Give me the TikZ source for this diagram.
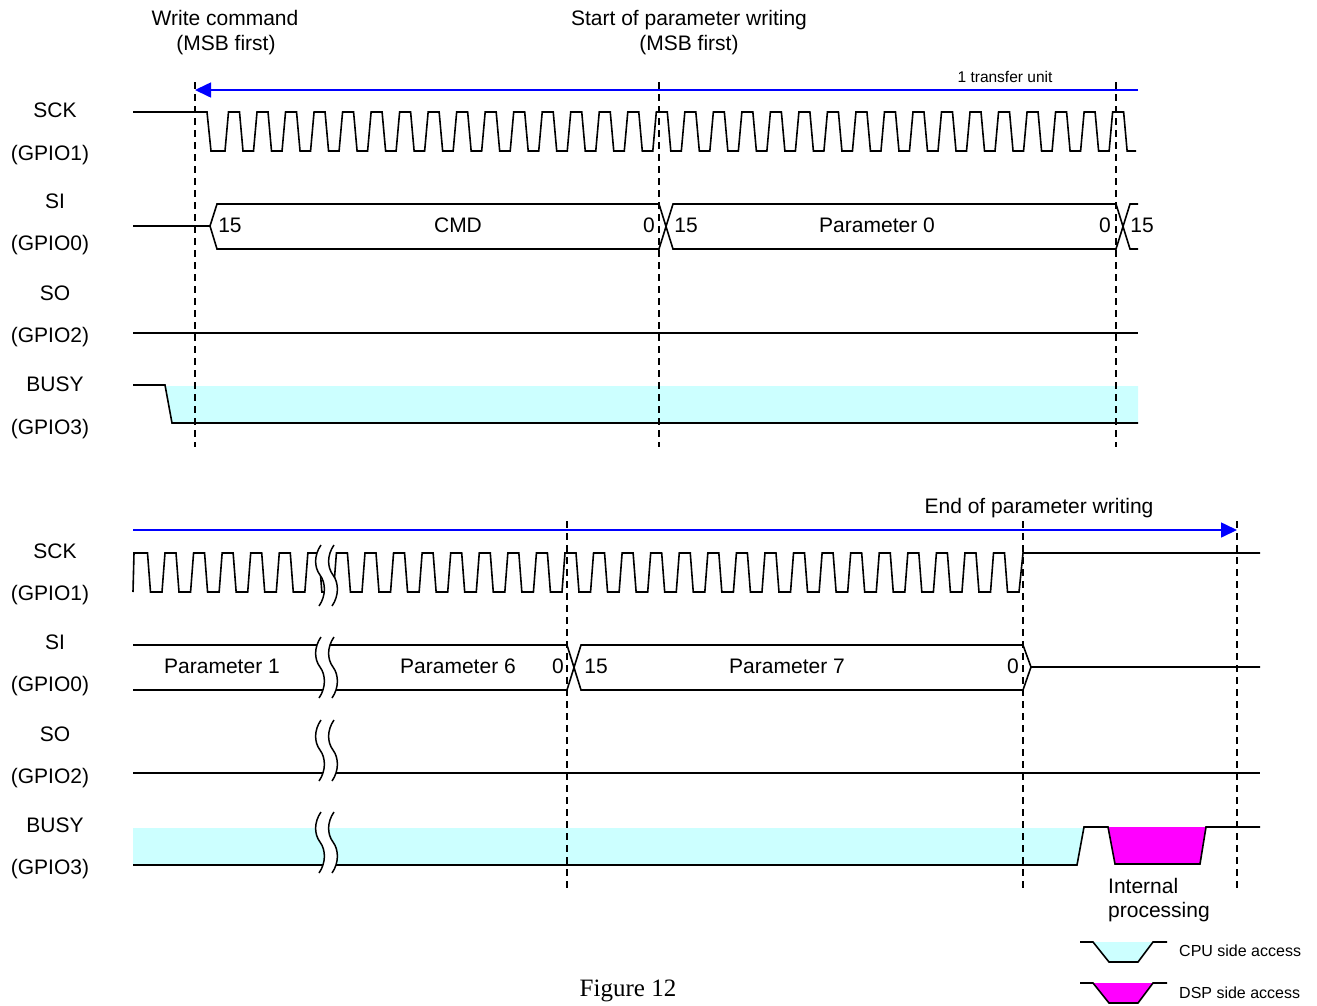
\documentclass[tikz,border=0pt]{standalone}
\usepackage{fontspec}
\setmainfont{Liberation Serif}
\setsansfont{Liberation Sans}
\usetikzlibrary{arrows.meta}
\definecolor{cpucyan}{HTML}{CCFFFF}
\definecolor{dspmag}{HTML}{FF00FF}
\definecolor{arrblue}{HTML}{0000FF}
\newcommand\brkmark[2]{%
 \fill[white] ({#1+1},#2) .. controls ({#1-6},{#2+10}) and ({#1-6},{#2+22}) .. (#1,{#2+30}) .. controls ({#1+6},{#2+38}) and ({#1+6},{#2+51}) .. ({#1-1},{#2+61}) -- ({#1+12},{#2+61}) .. controls ({#1+19},{#2+51}) and ({#1+19},{#2+38}) .. ({#1+13},{#2+30}) .. controls ({#1+7},{#2+22}) and ({#1+7},{#2+10}) .. ({#1+14},#2) -- cycle;
 \draw[brkline] ({#1+1},#2) .. controls ({#1-6},{#2+10}) and ({#1-6},{#2+22}) .. (#1,{#2+30}) .. controls ({#1+6},{#2+38}) and ({#1+6},{#2+51}) .. ({#1-1},{#2+61});
 \draw[brkline] ({#1+14},#2) .. controls ({#1+7},{#2+10}) and ({#1+7},{#2+22}) .. ({#1+13},{#2+30}) .. controls ({#1+19},{#2+38}) and ({#1+19},{#2+51}) .. ({#1+12},{#2+61});
}
\begin{document}
\begin{tikzpicture}[x=1pt,y=-1pt,
  sig/.style={line width=1.6pt},
  brkline/.style={line width=1.5pt},
  dline/.style={line width=1.6pt,dash pattern=on 7pt off 5pt},
  barrow/.style={line width=1.6pt,draw=arrblue,-{Triangle[length=16pt,width=15pt]}},
  lbl/.style={font=\sffamily\fontsize{21}{25}\selectfont,inner sep=0pt,text height=15pt,text depth=0pt},
  small/.style={font=\sffamily\fontsize{15.5}{18}\selectfont,inner sep=0pt,text height=11pt,text depth=0pt},
  leg/.style={font=\sffamily\fontsize{16}{19}\selectfont,inner sep=0pt,text height=11.5pt,text depth=0pt,anchor=west},
]
\useasboundingbox (0,0) rectangle (1317,1005);

% ---------------- TOP SECTION ----------------
\node[lbl] (wc1) at (225,18) {Write command};
\node[lbl] (wc2) at (226,43) {(MSB first)};
\node[lbl] (sp1) at (689,18) {Start of parameter writing};
\node[lbl] (sp2) at (689,43) {(MSB first)};
\node[small] (tu) at (1005,77) {1 transfer unit};

\node[lbl] (tsck) at (55,110) {SCK};
\node[lbl] (tg1) at (50,153) {(GPIO1)};
\node[lbl] (tsi) at (55,201) {SI};
\node[lbl] (tg0) at (50,243) {(GPIO0)};
\node[lbl] (tso) at (55,293) {SO};
\node[lbl] (tg2) at (50,335) {(GPIO2)};
\node[lbl] (tbusy) at (55,384) {BUSY};
\node[lbl] (tg3) at (50,427) {(GPIO3)};

% busy fill
\fill[cpucyan] (165,386) -- (1138,386) -- (1138,423) -- (172,423) -- cycle;

% blue arrow
\coordinate (a1s) at (1138,90);
\coordinate (a1e) at (195,90);
\draw[barrow] (a1s) -- (a1e);

% SCK top
\draw[sig] (133,112) -- (207,112) -- (211,151)
  \foreach \k in {0,...,31}{ -- ({225+\k*28.52},151) -- ({228.5+\k*28.52},112) -- ({239.5+\k*28.52},112) -- ({243+\k*28.52},151)}
  -- (1136,151);

% SI top
\draw[sig] (133,226) -- (210,226) -- (217,204) -- (659,204) -- (673,249) -- (1116,249) -- (1130,204) -- (1138,204);
\draw[sig] (210,226) -- (217,249) -- (659,249) -- (673,204) -- (1116,204) -- (1130,249) -- (1138,249);
\node[lbl] (t15a) at (230,225) {15};
\node[lbl] (tcmd) at (458,225) {CMD};
\node[lbl] (t0a) at (649,225) {0};
\node[lbl] (t15b) at (686,225) {15};
\node[lbl] (tp0) at (877,225) {Parameter 0};
\node[lbl] (t0b) at (1105,225) {0};
\node[lbl] (t15c) at (1142,225) {15};

% SO top
\draw[sig] (133,333) -- (1138,333);

% BUSY top
\draw[sig] (133,385) -- (165,385) -- (172,423) -- (1138,423);

% dashed lines top
\coordinate (d1t) at (195,82); \coordinate (d1b) at (195,447);
\coordinate (d2t) at (659,82); \coordinate (d2b) at (659,447);
\coordinate (d3t) at (1116,82); \coordinate (d3b) at (1116,447);
\draw[dline] (d1t) -- (d1b);
\draw[dline] (d2t) -- (d2b);
\draw[dline] (d3t) -- (d3b);

% ---------------- BOTTOM SECTION ----------------
\node[lbl] (ep) at (1039,506) {End of parameter writing};

\node[lbl] (bsck) at (55,551) {SCK};
\node[lbl] (bg1) at (50,593) {(GPIO1)};
\node[lbl] (bsi) at (55,642) {SI};
\node[lbl] (bg0) at (50,684) {(GPIO0)};
\node[lbl] (bso) at (55,734) {SO};
\node[lbl] (bg2) at (50,776) {(GPIO2)};
\node[lbl] (bbusy) at (55,825) {BUSY};
\node[lbl] (bg3) at (50,867) {(GPIO3)};

% fills
\fill[cpucyan] (133,828) -- (1084,828) -- (1077,865) -- (133,865) -- cycle;
\fill[dspmag] (1108,827) -- (1206,827) -- (1200,864) -- (1115,864) -- cycle;

% blue arrow
\coordinate (a2s) at (133,530);
\coordinate (a2e) at (1237,530);
\draw[barrow] (a2s) -- (a2e);

% SCK bottom
\draw[sig] (133,592) -- (134,553) -- (147.5,553) -- (150.5,592)
  \foreach \k in {0,...,29}{ -- ({162+\k*28.57},592) -- ({165+\k*28.57},553) -- ({176+\k*28.57},553) -- ({179+\k*28.57},592)}
  -- (1019,592) -- (1023,553) -- (1260,553);

% SI bottom
\draw[sig] (133,645) -- (567,645) -- (581,690) -- (1023,690) -- (1031,667) -- (1260,667);
\draw[sig] (133,690) -- (567,690) -- (581,645) -- (1023,645) -- (1031,667);

% SO bottom
\draw[sig] (133,773) -- (1260,773);

% BUSY bottom
\draw[sig] (133,865) -- (1077,865) -- (1084,827) -- (1108,827) -- (1115,864) -- (1200,864) -- (1206,827) -- (1260,827);

% breaks
\brkmark{320}{545}
\brkmark{320}{637}
\brkmark{320}{720}
\brkmark{320}{812}

\node[lbl] (bp1) at (222,666) {Parameter 1};
\node[lbl] (bp6) at (458,666) {Parameter 6};
\node[lbl] (b0a) at (558,666) {0};
\node[lbl] (b15) at (596,666) {15};
\node[lbl] (bp7) at (787,666) {Parameter 7};
\node[lbl] (b0b) at (1013,666) {0};

% dashed lines bottom
\coordinate (e1t) at (567,521); \coordinate (e1b) at (567,888);
\coordinate (e2t) at (1023,521); \coordinate (e2b) at (1023,888);
\coordinate (e3t) at (1237,521); \coordinate (e3b) at (1237,888);
\draw[dline] (e1t) -- (e1b);
\draw[dline] (e2t) -- (e2b);
\draw[dline] (e3t) -- (e3b);

\node[lbl,anchor=west] (ip1) at (1108,886) {Internal};
\node[lbl,anchor=west] (ip2) at (1108,910) {processing};

% legend
\fill[cpucyan] (1093,942) -- (1153,942) -- (1138,962) -- (1109,962) -- cycle;
\draw[sig] (1080,942) -- (1093,942) -- (1109,962) -- (1138,962) -- (1153,942) -- (1167,942);
\node[leg] (lcpu) at (1179,951) {CPU side access};
\fill[dspmag] (1093,983) -- (1153,983) -- (1138,1003) -- (1109,1003) -- cycle;
\draw[sig] (1080,983) -- (1093,983) -- (1109,1003) -- (1138,1003) -- (1153,983) -- (1167,983);
\node[leg] (ldsp) at (1179,993) {DSP side access};

\node[font=\rmfamily\fontsize{25}{30}\selectfont,inner sep=0pt,text height=17pt,text depth=0pt] (fig) at (628,988) {Figure 12};
\end{tikzpicture}
\end{document}
